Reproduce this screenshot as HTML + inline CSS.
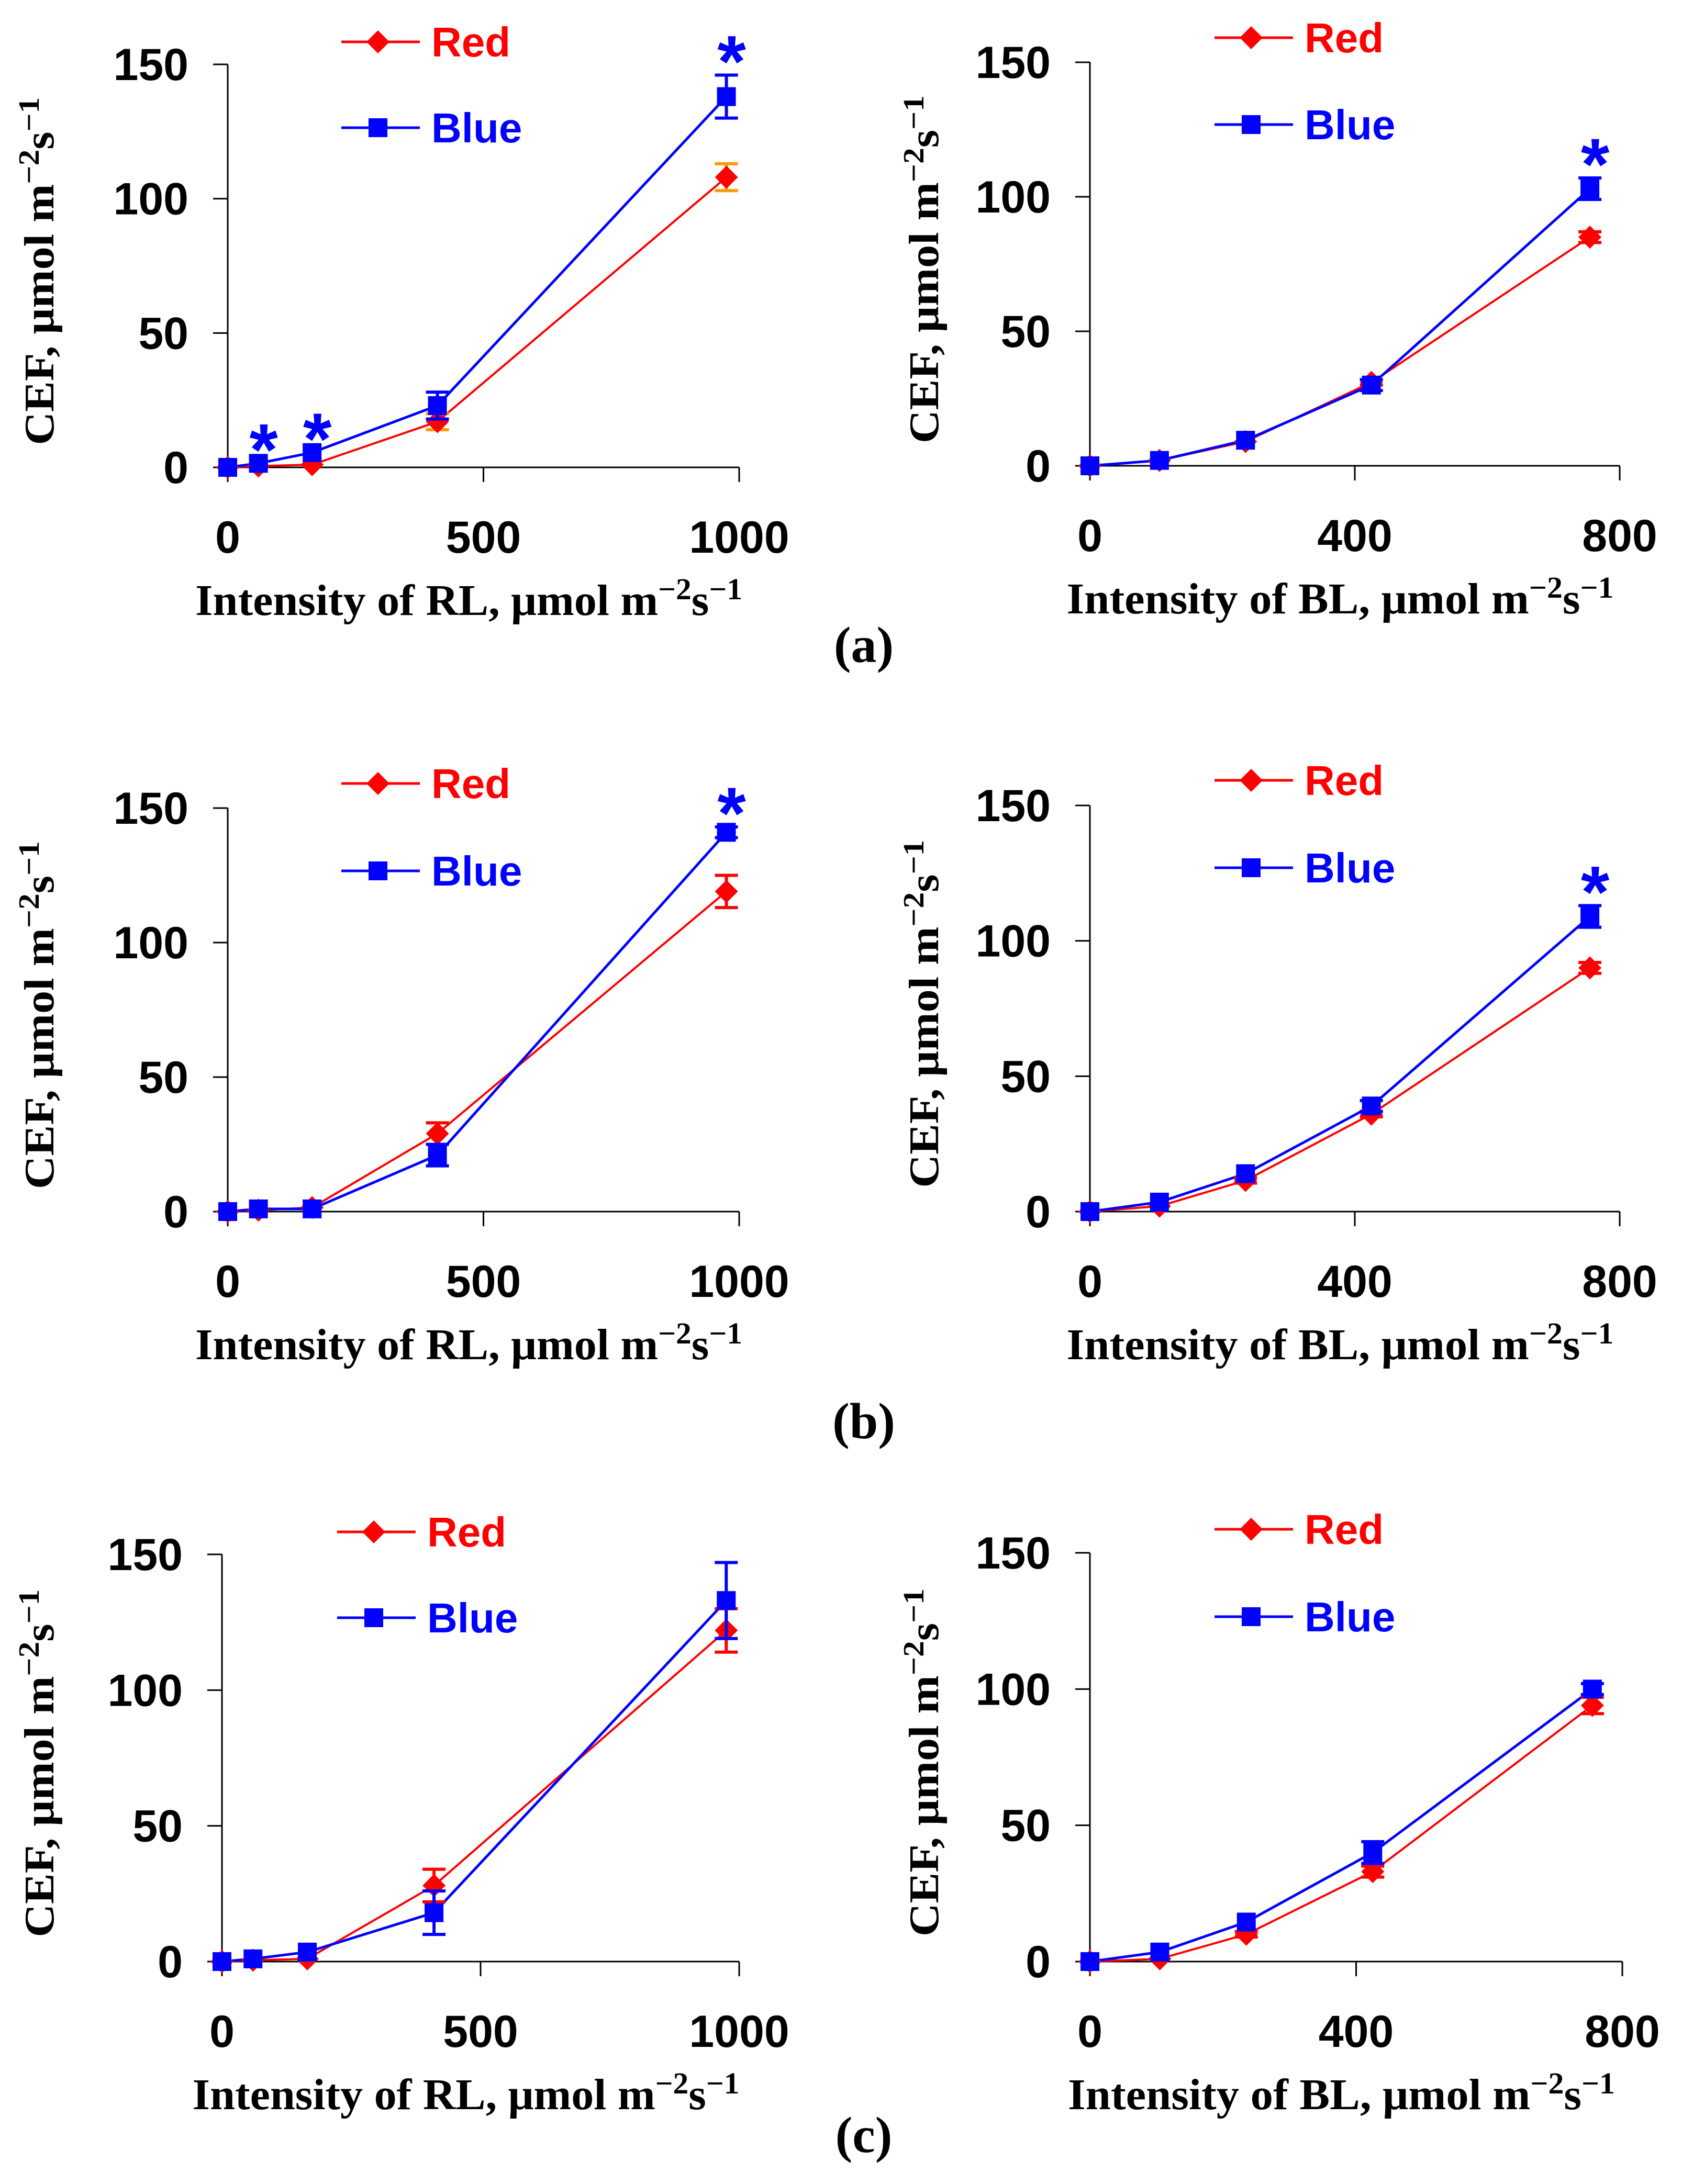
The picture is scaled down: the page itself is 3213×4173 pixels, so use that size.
<!DOCTYPE html>
<html><head><meta charset="utf-8"><style>
html,body{margin:0;padding:0;background:#fff}
svg{display:block}
</style></head><body>
<svg id="fig" width="3213" height="4173" viewBox="0 0 3213 4173" xmlns="http://www.w3.org/2000/svg"></svg>
<script>
const rlX = [0, 60, 165, 410, 975];
const blX = [0, 105, 235, 425, 755];
const aLeftRed = [0, 0.5, 1, 17, 108];
const aLeftRedErr = [0, 0, 0, 3, 5];
const aLeftBlue = [0, 1.5, 5.5, 23, 138];
const aLeftBlueErr = [0, 0, 0, 5, 8];
const aRightRed = [0, 2, 9, 31, 85];
const aRightRedErr = [0, 0, 0, 1, 2];
const aRightBlue = [0, 2, 9.5, 30, 103];
const aRightBlueErr = [0, 0, 0, 2, 4];
const bLeftRed = [0, 0.5, 1.5, 29, 119];
const bLeftRedErr = [0, 0, 0, 4, 6];
const bLeftBlue = [0, 1, 1, 21, 141];
const bLeftBlueErr = [0, 0, 0, 4, 2];
const bRightRed = [0, 2, 11.5, 36, 90];
const bRightRedErr = [0, 0, 1, 1, 2];
const bRightBlue = [0, 3.5, 14, 39, 109];
const bRightBlueErr = [0, 0, 0, 2, 4];
const cLeftRed = [0, 0.5, 1, 28, 122];
const cLeftRedErr = [0, 0, 0, 6, 8];
const cLeftBlue = [0, 1, 3.5, 18, 133];
const cLeftBlueErr = [0, 0, 0, 8, 14];
const cRightRed = [0, 1, 10, 33, 94];
const cRightRedErr = [0, 0, 1, 2, 3];
const cRightBlue = [0, 3.5, 14.5, 40, 100];
const cRightBlueErr = [0, 0, 0, 4, 2];
const yTicks = [0, 50, 100, 150];
const rlTicks = [0, 500, 1000];
const blTicks = [0, 400, 800];

const NS = 'http://www.w3.org/2000/svg';
const svg = document.getElementById('fig');
function mk(tag, attrs, parent, text) {
  const e = document.createElementNS(NS, tag);
  for (const k in attrs) e.setAttribute(k, attrs[k]);
  if (text !== undefined) e.textContent = text;
  (parent || svg).appendChild(e);
  return e;
}
const panels = [
  {id:'a-left', x0:435, x1:1412, xmax:1000, y0:893, y150:123, xs:rlX, red:aLeftRed, rerr:aLeftRedErr, blue:aLeftBlue, berr:aLeftBlueErr, ticks:rlTicks, title:'RL', star:[1,2,4], redErrColor:'#ff9900', leg:{lx:652, ry:80, by:244}, yt:74},
  {id:'a-right', x0:2082, x1:3094, xmax:800, y0:890, y150:119, xs:blX, red:aRightRed, rerr:aRightRedErr, blue:aRightBlue, berr:aRightBlueErr, ticks:blTicks, title:'BL', star:[4], redErrColor:'#ff0000', leg:{lx:2320, ry:72, by:238}, yt:1764},
  {id:'b-left', x0:435, x1:1412, xmax:1000, y0:2315, y150:1544, xs:rlX, red:bLeftRed, rerr:bLeftRedErr, blue:bLeftBlue, berr:bLeftBlueErr, ticks:rlTicks, title:'RL', star:[4], redErrColor:'#ff0000', leg:{lx:652, ry:1497, by:1664}, yt:74},
  {id:'b-right', x0:2082, x1:3094, xmax:800, y0:2315, y150:1539, xs:blX, red:bRightRed, rerr:bRightRedErr, blue:bRightBlue, berr:bRightBlueErr, ticks:blTicks, title:'BL', star:[4], redErrColor:'#ff0000', leg:{lx:2320, ry:1491, by:1658}, yt:1764},
  {id:'c-left', x0:424, x1:1412, xmax:1000, y0:3748, y150:2970, xs:rlX, red:cLeftRed, rerr:cLeftRedErr, blue:cLeftBlue, berr:cLeftBlueErr, ticks:rlTicks, title:'RL', star:[], redErrColor:'#ff0000', leg:{lx:644, ry:2927, by:3091}, yt:74},
  {id:'c-right', x0:2082, x1:3099, xmax:800, y0:3748, y150:2967, xs:blX, red:cRightRed, rerr:cRightRedErr, blue:cRightBlue, berr:cRightBlueErr, ticks:blTicks, title:'BL', star:[], redErrColor:'#ff0000', leg:{lx:2320, ry:2922, by:3089}, yt:1764}
];
function diamond(g, cx, cy, r) {
  const p = mk('polygon', {points:`${cx},${cy-r} ${cx+r},${cy} ${cx},${cy+r} ${cx-r},${cy}`, fill:'#ff0000'}, g);
  
  
}
function square(g, cx, cy, s) {
  const p = mk('rect', {x:cx-s/2, y:cy-s/2, width:s, height:s, fill:'#0000ff'}, g);
  
  
}
function errbar(g, cx, cy1, cy2, color, w) {
  mk('line', {x1:cx, y1:cy1, x2:cx, y2:cy2, stroke:color, 'stroke-width':w}, g);
  mk('line', {x1:cx-22, y1:cy1, x2:cx+22, y2:cy1, stroke:color, 'stroke-width':w}, g);
  mk('line', {x1:cx-22, y1:cy2, x2:cx+22, y2:cy2, stroke:color, 'stroke-width':w}, g);
}
panels.forEach(P => {
  const g = mk('g', {});
  
  
  const sx = v => P.x0 + (P.x1 - P.x0) * v / P.xmax;
  const sy = v => P.y0 - (P.y0 - P.y150) * v / 150;
  const ax = mk('g', {stroke:'#000', 'stroke-width':3}, g);
  
  
  mk('line', {x1:P.x0, y1:P.y150, x2:P.x0, y2:P.y0 + 28}, ax);
  mk('line', {x1:P.x0 - 28, y1:P.y0, x2:P.x1, y2:P.y0}, ax);
  yTicks.forEach(t => {
    mk('line', {x1:P.x0 - 28, y1:sy(t), x2:P.x0, y2:sy(t)}, ax);
    const tl = mk('text', {x:P.x0 - 75, y:sy(t) + 30, 'text-anchor':'end', 'font-family':'Liberation Sans, Arial, sans-serif', 'font-weight':'bold', 'font-size':86, fill:'#000', stroke:'none'}, g, String(t));
    
    
  });
  P.ticks.forEach(t => {
    mk('line', {x1:sx(t), y1:P.y0, x2:sx(t), y2:P.y0 + 28}, ax);
    const tl = mk('text', {x:sx(t), y:P.y0 + 163, 'text-anchor':'middle', 'font-family':'Liberation Sans, Arial, sans-serif', 'font-weight':'bold', 'font-size':86, fill:'#000'}, g, String(t));
    
    
  });
  const xt = mk('text', {x:(P.x0 + P.x1) / 2 - 28, y:P.y0 + 282, 'text-anchor':'middle', 'font-family':'Liberation Serif, Times New Roman, serif', 'font-weight':'bold', 'font-size':84, fill:'#000', textLength:1045, lengthAdjust:'spacingAndGlyphs'}, g);
  
  
  xt.innerHTML = 'Intensity of ' + P.title + ', μmol m<tspan dy="-30" font-size="58">−2</tspan><tspan dy="30">s</tspan><tspan dy="-30" font-size="58">−1</tspan>';
  const ymid = (P.y0 + P.y150) / 2 + 10;
  const yt = mk('text', {x:0, y:0, transform:`translate(${P.yt + 28},${ymid}) rotate(-90)`, 'text-anchor':'middle', 'font-family':'Liberation Serif, Times New Roman, serif', 'font-weight':'bold', 'font-size':80, fill:'#000', textLength:665, lengthAdjust:'spacingAndGlyphs'}, g);
  
  
  yt.innerHTML = 'CEF, μmol m<tspan dy="-28" font-size="56">−2</tspan><tspan dy="28">s</tspan><tspan dy="-28" font-size="56">−1</tspan>';
  const rpts = P.xs.map((x, i) => sx(x) + ',' + sy(P.red[i])).join(' ');
  const rl = mk('polyline', {points:rpts, fill:'none', stroke:'#ff0000', 'stroke-width':4}, g);
  
  
  const bpts = P.xs.map((x, i) => sx(x) + ',' + sy(P.blue[i])).join(' ');
  const bl = mk('polyline', {points:bpts, fill:'none', stroke:'#0000ff', 'stroke-width':5}, g);
  
  
  P.xs.forEach((x, i) => {
    if (P.rerr[i] > 0) errbar(g, sx(x), sy(P.red[i] + P.rerr[i]), sy(P.red[i] - P.rerr[i]), P.redErrColor, 6);
    diamond(g, sx(x), sy(P.red[i]), 22);
  });
  P.xs.forEach((x, i) => {
    if (P.berr[i] > 0) errbar(g, sx(x), sy(P.blue[i] + P.berr[i]), sy(P.blue[i] - P.berr[i]), '#0000ff', 6);
    square(g, sx(x), sy(P.blue[i]), 36);
  });
  P.star.forEach(i => {
    const top = sy(P.blue[i] + P.berr[i]);
    const s = mk('text', {x:sx(P.xs[i]) + 10, y:top + 22, 'text-anchor':'middle', 'font-family':'Liberation Sans, Arial, sans-serif', 'font-weight':'bold', 'font-size':140, fill:'#0000ff'}, g, '*');
    
    
  });
  const L = P.leg;
  const lg = mk('g', {}, g);
  
  
  mk('line', {x1:L.lx, y1:L.ry, x2:L.lx + 150, y2:L.ry, stroke:'#ff0000', 'stroke-width':5}, lg);
  diamond(lg, L.lx + 70, L.ry, 22);
  const rt = mk('text', {x:L.lx + 172, y:L.ry + 28, 'font-family':'Liberation Sans, Arial, sans-serif', 'font-weight':'bold', 'font-size':80, fill:'#ff0000'}, lg, 'Red');
  
  
  mk('line', {x1:L.lx, y1:L.by, x2:L.lx + 150, y2:L.by, stroke:'#0000ff', 'stroke-width':5}, lg);
  square(lg, L.lx + 70, L.by, 36);
  const btx = mk('text', {x:L.lx + 172, y:L.by + 28, 'font-family':'Liberation Sans, Arial, sans-serif', 'font-weight':'bold', 'font-size':80, fill:'#0000ff'}, lg, 'Blue');
  
  
});
[['(a)', 1265], ['(b)', 2748], ['(c)', 4112]].forEach(([t, y]) => {
  const e = mk('text', {x:1650, y:y, 'text-anchor':'middle', 'font-family':'Liberation Serif, Times New Roman, serif', 'font-weight':'bold', 'font-size':98, fill:'#000'}, svg, t);
  
  
});
</script>
</body></html>
